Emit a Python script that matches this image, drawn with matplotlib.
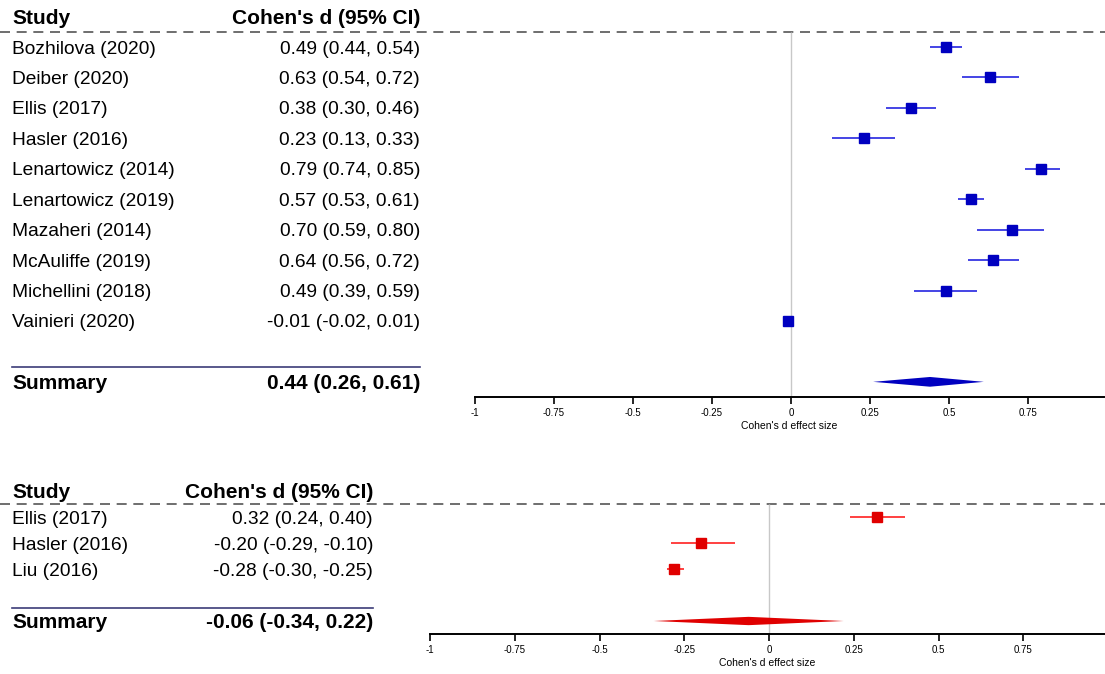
import numpy as np
import matplotlib
matplotlib.use('Agg')
import matplotlib.pyplot as plt

plt.rcParams['font.family'] = ['Liberation Sans', 'DejaVu Sans']

# top panel data
studies_a = ['Bozhilova (2020)', 'Deiber (2020)', 'Ellis (2017)', 'Hasler (2016)',
             'Lenartowicz (2014)', 'Lenartowicz (2019)', 'Mazaheri (2014)',
             'McAuliffe (2019)', 'Michellini (2018)', 'Vainieri (2020)']
d_a = [0.49, 0.63, 0.38, 0.23, 0.79, 0.57, 0.70, 0.64, 0.49, -0.01]
lo_a = [0.44, 0.54, 0.30, 0.13, 0.74, 0.53, 0.59, 0.56, 0.39, -0.02]
hi_a = [0.54, 0.72, 0.46, 0.33, 0.85, 0.61, 0.80, 0.72, 0.59, 0.01]
summary_a = (0.44, 0.26, 0.61)

# bottom panel data
studies_b = ['Ellis (2017)', 'Hasler (2016)', 'Liu (2016)']
d_b = [0.32, -0.20, -0.28]
lo_b = [0.24, -0.29, -0.30]
hi_b = [0.40, -0.10, -0.25]
summary_b = (-0.06, -0.34, 0.22)

ticks = [-1, -0.75, -0.5, -0.25, 0, 0.25, 0.5, 0.75]
tick_labels = ['-1', '-0.75', '-0.5', '-0.25', '0', '0.25', '0.5', '0.75']

W, H = 1105, 674
fig = plt.figure(figsize=(W / 100, H / 100), dpi=100)


def px_axes(x0, y0, x1, y1):
    return fig.add_axes([x0 / W, 1 - y1 / H, (x1 - x0) / W, (y1 - y0) / H])


def panel(y0, sp, ax_x0, scale, ci_x, names, d, lo, hi, summ, mcol, lcol):
    n = len(names)
    ymax = n + 2.5
    y1 = y0 + sp * (ymax + 0.5)
    dy = 2 / sp  # nudge text down a little
    tab = px_axes(0, y0, W, y1)
    tab.set_xlim(0, W)
    tab.set_ylim(ymax, -0.5)
    tab.axis('off')

    ax = px_axes(ax_x0, y0, ax_x0 + scale * 1.99, y1)
    ax.set_xlim(-1, 0.99)
    ax.set_ylim(ymax, -0.5)
    ax.patch.set_alpha(0)
    for s in ['top', 'left', 'right']:
        ax.spines[s].set_visible(False)
    ax.spines['bottom'].set_linewidth(1.4)
    ax.set_yticks([])
    ax.set_xticks(ticks)
    ax.set_xticklabels(tick_labels, fontsize=7)
    ax.tick_params(axis='x', direction='out', length=5, width=1.2, pad=3)
    ax.set_xlabel("Cohen's d effect size", fontsize=7.5, labelpad=2)

    # header
    tab.text(12, dy, 'Study', fontsize=15, fontweight='bold', va='center')
    tab.text(ci_x, dy, "Cohen's d (95% CI)", fontsize=15, fontweight='bold',
             va='center', ha='right')
    tab.axhline(0.5, color='#555555', lw=1.2, ls=(0, (6, 4)))

    rows = np.arange(1, n + 1)
    for r, name, e, l, h in zip(rows, names, d, lo, hi):
        tab.text(12, r + dy, name, fontsize=13.8, va='center')
        tab.text(ci_x, r + dy, f'{e:.2f} ({l:.2f}, {h:.2f})', fontsize=13.8,
                 va='center', ha='right')

    ax.vlines(0, 0.5, ymax, color='#c8c8c8', lw=1, zorder=1)
    ax.hlines(rows, lo, hi, color=lcol, lw=1.2, zorder=2)
    ax.plot(d, rows, 's', color=mcol, ms=6.5, zorder=3, lw=0)

    sr = n + 2
    e, l, h = summ
    tab.plot([12, ci_x], [sr - 0.5, sr - 0.5], color='#3c3c78', lw=1.2)
    tab.text(12, sr + dy, 'Summary', fontsize=15, fontweight='bold', va='center')
    tab.text(ci_x, sr + dy, f'{e:.2f} ({l:.2f}, {h:.2f})', fontsize=15,
             fontweight='bold', va='center', ha='right')
    hh = 0.16
    ax.fill([l, e, h, e], [sr, sr - hh, sr, sr + hh], color=mcol, lw=0, zorder=3)


# top: rows spaced ~30.4 px, first row at y=47
sp = 30.44
panel(47 - 1.5 * sp, sp, 475, 316, 420,
      studies_a, d_a, lo_a, hi_a, summary_a, '#0000c0', '#2525e0')

# bottom: rows spaced ~26 px, first row at y=517
sp = 26
panel(517 - 1.5 * sp, sp, 430, 339, 373,
      studies_b, d_b, lo_b, hi_b, summary_b, '#e00000', '#ff2020')

fig.savefig('out.png', dpi=100)
